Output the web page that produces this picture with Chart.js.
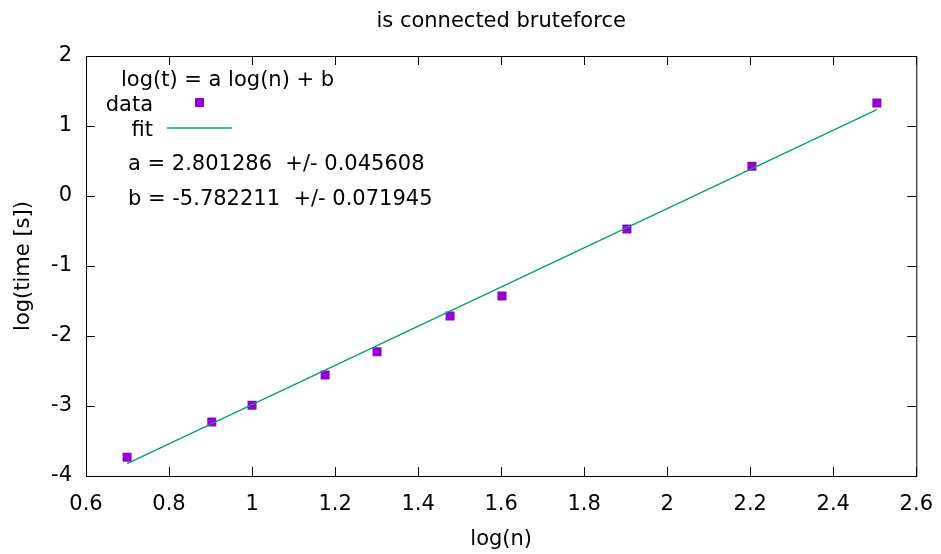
<!DOCTYPE html>
<html lang="en">
<head>
  <meta charset="UTF-8">
  <title>is connected bruteforce</title>
  <script src="https://cdn.jsdelivr.net/npm/chart.js"></script>
  <style>
    html, body { margin: 0; padding: 0; background: #fff; }
    #wrap { width: 941px; height: 554px; }
  </style>
</head>
<body>

<div id="wrap">
  <canvas id="grafik" width="941" height="554"></canvas>
</div>

<script>
  // log10(n) of the measured sizes and log10 of the run time
  const logN = [0.699, 0.903, 1.0, 1.176, 1.301, 1.477, 1.602, 1.903, 2.204, 2.505];
  const logT = [-3.733, -3.229, -2.99, -2.557, -2.224, -1.714, -1.429, -0.471, 0.424, 1.329];

  // fitted line log(t) = a log(n) + b, a = 2.801286, b = -5.782211
  const fitX = [0.699, 2.505];
  const fitY = [-3.824, 1.235];

  const xTicks = [0.6, 0.8, 1, 1.2, 1.4, 1.6, 1.8, 2, 2.2, 2.4, 2.6];
  const xTickLabels = ['0.6', '0.8', '1', '1.2', '1.4', '1.6', '1.8', '2', '2.2', '2.4', '2.6'];
  const yTicks = [-4, -3, -2, -1, 0, 1, 2];
  const yTickLabels = ['-4', '-3', '-2', '-1', '0', '1', '2'];

  const FONT = '"DejaVu Sans", "Liberation Sans", sans-serif';
  const UKURAN = 21;
  const warnaData = '#9400d3';
  const warnaFit = '#009e73';

  // frame, inward mirrored ticks, title, axis titles and the key box
  const gnuplotLook = {
    id: 'gnuplotLook',
    afterDraw(chart) {
      const ctx = chart.ctx;
      const a = chart.chartArea;
      const sx = chart.scales.x, sy = chart.scales.y;
      const tick = 9;

      ctx.save();
      ctx.strokeStyle = '#000';
      ctx.lineWidth = 1;
      ctx.strokeRect(a.left + 0.5, a.top + 0.5, a.right - a.left, a.bottom - a.top);

      ctx.beginPath();
      xTicks.forEach(v => {
        const px = Math.round(sx.getPixelForValue(v)) + 0.5;
        ctx.moveTo(px, a.bottom); ctx.lineTo(px, a.bottom - tick);
        ctx.moveTo(px, a.top); ctx.lineTo(px, a.top + tick);
      });
      yTicks.forEach(v => {
        const py = Math.round(sy.getPixelForValue(v)) + 0.5;
        ctx.moveTo(a.left, py); ctx.lineTo(a.left + tick, py);
        ctx.moveTo(a.right, py); ctx.lineTo(a.right - tick, py);
      });
      ctx.stroke();

      ctx.fillStyle = '#000';
      ctx.font = UKURAN + 'px ' + FONT;
      ctx.textBaseline = 'alphabetic';

      ctx.textAlign = 'center';
      ctx.fillText('is connected bruteforce', (a.left + a.right) / 2, 27);
      ctx.fillText('log(n)', (a.left + a.right) / 2, 545);

      ctx.save();
      ctx.translate(29, (a.top + a.bottom) / 2);
      ctx.rotate(-Math.PI / 2);
      ctx.fillText('log(time [s])', 0, 0);
      ctx.restore();

      // key
      ctx.textAlign = 'left';
      ctx.fillText('log(t) = a log(n) + b', 121, 86);
      ctx.textAlign = 'right';
      ctx.fillText('data', 153, 111);
      ctx.fillText('fit', 153, 136);
      ctx.fillStyle = warnaData;
      ctx.fillRect(195, 98, 9, 9);
      ctx.strokeStyle = warnaFit;
      ctx.lineWidth = 1.3;
      ctx.beginPath();
      ctx.moveTo(167, 128); ctx.lineTo(232, 128);
      ctx.stroke();

      ctx.fillStyle = '#000';
      ctx.textAlign = 'left';
      ctx.fillText('a = 2.801286  +/- 0.045608', 128, 170);
      ctx.fillText('b = -5.782211  +/- 0.071945', 128, 205);
      ctx.restore();
    }
  };

  new Chart(document.getElementById('grafik'), {
    type: 'scatter',
    data: {
      datasets: [
        {
          label: 'fit',
          data: fitX.map((x, i) => ({ x: x, y: fitY[i] })),
          showLine: true,
          borderColor: warnaFit,
          borderWidth: 1.3,
          pointRadius: 0,
          fill: false
        },
        {
          label: 'data',
          data: logN.map((x, i) => ({ x: x, y: logT[i] })),
          pointStyle: 'rect',
          pointRadius: 6.4,
          borderWidth: 0,
          backgroundColor: warnaData,
          borderColor: warnaData
        }
      ]
    },
    options: {
      responsive: false,
      animation: false,
      events: [],
      layout: { padding: { top: 56, right: 11, left: 0, bottom: 0 } },
      plugins: {
        legend: { display: false },
        tooltip: { enabled: false },
        title: { display: false }
      },
      scales: {
        x: {
          type: 'linear',
          min: 0.6,
          max: 2.6,
          grid: { display: false },
          border: { display: false },
          afterBuildTicks: s => { s.ticks = xTicks.map(v => ({ value: v })); },
          afterFit: s => { s.height = 78; },
          ticks: {
            padding: 8,
            maxRotation: 0,
            autoSkip: false,
            color: '#000',
            font: { family: FONT, size: UKURAN },
            callback: (v, i) => xTickLabels[i]
          }
        },
        y: {
          type: 'linear',
          min: -4,
          max: 2,
          grid: { display: false },
          border: { display: false },
          afterBuildTicks: s => { s.ticks = yTicks.map(v => ({ value: v })); },
          afterFit: s => { s.width = 86; },
          ticks: {
            padding: 6,
            autoSkip: false,
            color: '#000',
            font: { family: FONT, size: UKURAN },
            callback: (v, i) => yTickLabels[i]
          }
        }
      }
    },
    plugins: [gnuplotLook]
  });
</script>

</body>
</html>
